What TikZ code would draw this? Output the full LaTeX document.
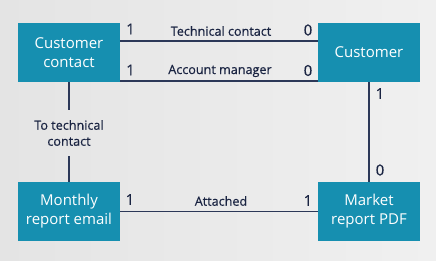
\documentclass[tikz,border=0pt]{standalone}
\usepackage{fontspec}
\setmainfont{Open Sans}
\newfontfamily\lblfont[FakeBold=0.4]{Open Sans}
\definecolor{boxc}{RGB}{22,143,176}
\definecolor{linec}{RGB}{44,56,88}
\definecolor{txtc}{RGB}{26,36,66}
\definecolor{bgL}{RGB}{228,228,228}
\definecolor{bgR}{RGB}{240,240,240}
\begin{document}
\begin{tikzpicture}[x=1pt,y=-1pt,
  entity/.style={fill=boxc,text=white,minimum width=102pt,minimum height=59pt,inner sep=0pt,align=center,font=\fontsize{15}{19}\selectfont},
  lbl/.style={text=txtc,font=\lblfont\fontsize{12.6}{16}\selectfont,inner sep=0pt,align=center},
  num/.style={text=txtc,font=\lblfont\fontsize{15}{18}\selectfont,inner sep=0pt},
  conn/.style={draw=linec,line width=1.3pt}]
\shade[left color=bgL,right color=bgR] (0,0) rectangle (436,260);
\useasboundingbox (0,0) rectangle (436,260);
\node[entity] (cc) at (69,52.5) {Customer\\contact};
\node[entity] (cu) at (369,52.5) {Customer};
\node[entity] (mre) at (69,211.5) {Monthly\\report email};
\node[entity] (pdf) at (369,211.5) {Market\\report PDF};
\node[lbl,inner ysep=10pt] (tt) at (69,133) {To technical\\contact};
\draw[conn] ([yshift=11.5pt]cc.east) -- ([yshift=11.5pt]cu.west);
\draw[conn] ([yshift=-28.5pt]cc.east) -- ([yshift=-28.5pt]cu.west);
\draw[conn] (mre) -- (pdf);
\draw[conn] (cu) -- (pdf);
\draw[conn] (cc) -- (tt);
\draw[conn] (tt) -- (mre);
\node[lbl] (l1) at (221,31) {Technical contact};
\node[lbl] (l2) at (220,71) {Account manager};
\node[lbl] (l3) at (221,201) {Attached};
\node[num] (n1) at (130.5,29) {1};
\node[num] (n2) at (130.5,70) {1};
\node[num] (n3) at (308,30) {0};
\node[num] (n4) at (308,70.5) {0};
\node[num] (n5) at (380,93.5) {1};
\node[num] (n6) at (380,170) {0};
\node[num] (n7) at (130,199.5) {1};
\node[num] (n8) at (308,200.5) {1};
\end{tikzpicture}
\end{document}
